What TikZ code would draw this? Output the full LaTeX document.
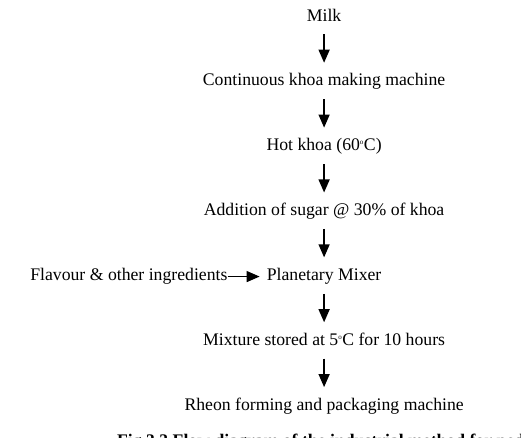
\documentclass[tikz,border=0pt]{standalone}
\usepackage{fontspec}
\setmainfont{Liberation Serif}
\usepackage{tikz}
\usetikzlibrary{positioning}
\usetikzlibrary{arrows.meta}

\begin{document}
\begin{tikzpicture}[
	flowtext/.style={inner sep=0pt, anchor=base, text height=12pt, text depth=4pt,
		font=\fontsize{17.7}{21}\selectfont},
	flowarrow/.style={line width=1.3pt, -{Triangle[length=13pt,width=11pt]},
		shorten <=9pt, shorten >=11pt},
	]
	
	% ---------------------
	% Page frame
	\useasboundingbox (0.00cm,0.00cm) rectangle (18.31cm,-15.39cm);
	
	% ---------------------
	% Step baselines
	\coordinate (Milk) at (11.39cm,-0.74cm);
	\path (Milk) +(0.00cm,-2.28cm) coordinate (KhoaMachine);
	\path (KhoaMachine) +(0.00cm,-2.28cm) coordinate (HotKhoa);
	\path (HotKhoa) +(0.00cm,-2.28cm) coordinate (Sugar);
	\path (Sugar) +(0.00cm,-2.28cm) coordinate (Mixer);
	\path (Mixer) +(0.00cm,-2.28cm) coordinate (Storage);
	\path (Storage) +(0.00cm,-2.28cm) coordinate (Rheon);
	
	% ---------------------
	% Step texts
	\node[flowtext] (milk) at (Milk) {Milk};
	\node[flowtext] (machine) at (KhoaMachine) {Continuous khoa making machine};
	\node[flowtext] (hot) at (HotKhoa) {Hot khoa (60\textsuperscript{\scriptsize o}C)};
	\node[flowtext] (sugar) at (Sugar) {Addition of sugar @ 30\% of khoa};
	\node[flowtext] (mixer) at (Mixer) {Planetary Mixer};
	\node[flowtext] (storage) at (Storage) {Mixture stored at 5\textsuperscript{\scriptsize o}C for 10 hours};
	\node[flowtext] (rheon) at (Rheon) {Rheon forming and packaging machine};
	
	\node[flowtext, left=1.37cm of mixer] (flavour) {Flavour \& other ingredients};
	
	% ---------------------
	% Arrows
	\foreach \a/\b in {milk/machine, machine/hot, hot/sugar, sugar/mixer, mixer/storage, storage/rheon}
		\draw[flowarrow] (\a) -- (\b);
	
	\draw[flowarrow, shorten <=0pt, shorten >=7pt] (flavour) -- (mixer);
	
	% ------------------------------------------------
	% Caption (cut at the page edge)
	\node[flowtext, anchor=base west, font=\fontsize{17.7}{21}\selectfont\bfseries] (caption)
		at (4.11cm,-15.68cm) {Fig.3.3 Flow diagram of the industrial method for peda making};
	
\end{tikzpicture}
\end{document}
